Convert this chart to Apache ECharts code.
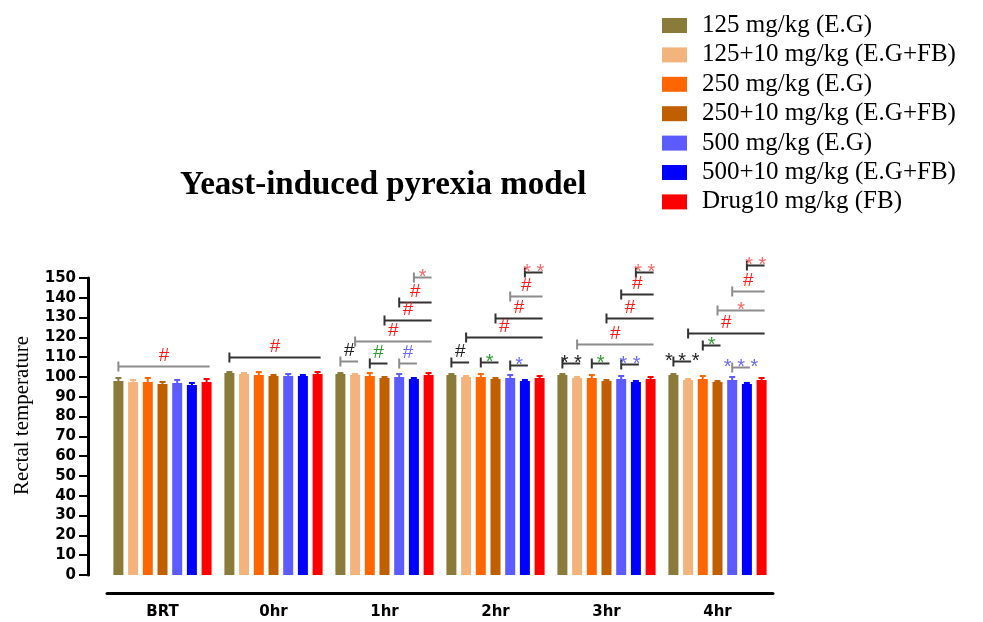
<!DOCTYPE html>
<html>
<head>
<meta charset="utf-8">
<script src="https://cdn.jsdelivr.net/npm/echarts@6/dist/echarts.min.js"></script>
<style>
  html, body { margin: 0; padding: 0; background: #fff; }
  #chart { width: 983px; height: 622px; }
</style>
</head>
<body>
<div id="chart"></div>
<script>
var categories = ['BRT', '0hr', '1hr', '2hr', '3hr', '4hr'];
var seriesNames = ['125 mg/kg (E.G)', '125+10 mg/kg (E.G+FB)', '250 mg/kg (E.G)',
  '250+10 mg/kg (E.G+FB)', '500 mg/kg (E.G)', '500+10 mg/kg (E.G+FB)', 'Drug10 mg/kg (FB)'];
var colors = ['#8a7b3a', '#f2b47c', '#ff6600', '#bf5f00', '#5b5bff', '#0000ff', '#ff0000'];

// mean rectal temperature per group, one value per time point
var eg125 = [98, 102, 101.5, 101, 101, 101];
var eg125fb = [97.5, 101.5, 101, 100, 99.5, 98.5];
var eg250 = [97.5, 101, 100.5, 100, 99.5, 99];
var eg250fb = [96.5, 100.5, 99.5, 99, 98, 97.5];
var eg500 = [97, 100.5, 100, 99.5, 99, 98.5];
var eg500fb = [96, 100.5, 99, 98, 97.5, 96.5];
var drugFb = [97.5, 101.5, 101, 99.5, 99, 98.5];
var values = [eg125, eg125fb, eg250, eg250fb, eg500, eg500fb, drugFb];

// error bar heights
var errors = [
  [1.5, 0.5, 0.5, 0.5, 0.5, 0.5],
  [1, 0.5, 0.5, 0.5, 0.5, 0.5],
  [2, 1.5, 1.5, 1.5, 1.5, 1.5],
  [1, 0.5, 0.5, 0.5, 0.5, 0.5],
  [1.5, 1, 1.5, 1.5, 1.5, 1.5],
  [1, 0.5, 0.5, 0.5, 0.5, 0.5],
  [1.5, 1, 1, 1, 1, 1]
];

// significance brackets: time point, from bar, to bar, level, label, text colour, line colour
var brGroup = [0, 1, 2, 2, 2, 2, 2, 2, 2, 3, 3, 3, 3, 3, 3, 3, 4, 4, 4, 4, 4, 4, 4, 5, 5, 5, 5, 5, 5, 5];
var brFrom  = [0, 0, 5, 4, 3, 1, 0, 2, 4, 5, 4, 3, 1, 0, 2, 4, 5, 4, 3, 1, 0, 2, 4, 5, 4, 3, 1, 2, 0, 4];
var brTo    = [6, 6, 6, 6, 6, 6, 1, 3, 5, 6, 6, 6, 6, 1, 3, 5, 6, 6, 6, 6, 1, 3, 5, 6, 6, 6, 6, 3, 1, 5];
var brLevel = [105.6, 110, 150.7, 138, 129, 118, 108, 107, 107, 153, 141, 129.6, 120, 107.4, 107.4, 106,
  153, 141.8, 129.6, 116.5, 107, 107, 106.4, 156.6, 143.6, 133.8, 122.4, 116, 108, 105];
var brLabel = ['#', '#', '*', '#', '#', '#', '#', '#', '#', '**', '#', '#', '#', '#', '*', '*',
  '**', '#', '#', '#', '**', '*', '**', '**', '#', '*', '#', '*', '***', '***'];
var brText  = ['r', 'r', 'p', 'r', 'r', 'r', 'k', 'g', 'b', 'p', 'r', 'r', 'r', 'k', 'g', 'b',
  'p', 'r', 'r', 'r', 'k', 'g', 'b', 'p', 'r', 'p', 'r', 'g', 'k', 'b'];
var brLine  = ['l', 'd', 'l', 'd', 'd', 'l', 'l', 'd', 'l', 'd', 'l', 'd', 'd', 'd', 'd', 'd',
  'd', 'd', 'd', 'l', 'd', 'd', 'd', 'd', 'l', 'l', 'd', 'd', 'd', 'l'];

var textColors = { r: '#ff1a1a', p: '#ff6666', k: '#222', g: '#2e9a2e', b: '#6b6bff' };
var lineColors = { l: '#8c8c8c', d: '#333' };

var BAR_W = 10, BAR_GAP = 0.47;
var STEP = BAR_W * (1 + BAR_GAP);

var chart = echarts.init(document.getElementById('chart'));

var series = seriesNames.map(function (name, i) {
  return {
    name: name,
    type: 'bar',
    data: values[i],
    barWidth: BAR_W,
    barGap: (BAR_GAP * 100) + '%',
    itemStyle: { color: colors[i] },
    emphasis: { disabled: true }
  };
});

var errData = [];
values.forEach(function (arr, s) {
  arr.forEach(function (v, c) { errData.push([c, v, s, errors[s][c]]); });
});

series.push({
  type: 'custom',
  silent: true,
  clip: false,
  z: 3,
  data: errData,
  encode: { x: 0, y: 1 },
  renderItem: function (params, api) {
    var c = api.value(0), v = api.value(1), s = api.value(2), e = api.value(3);
    var base = api.coord([c, v]);
    var top = api.coord([c, v + e])[1];
    var x = base[0] + (s - 3) * STEP;
    var st = { stroke: colors[s], lineWidth: 2 };
    return {
      type: 'group',
      children: [
        { type: 'line', shape: { x1: x, y1: base[1], x2: x, y2: top }, style: st },
        { type: 'line', shape: { x1: x - 3, y1: top, x2: x + 3, y2: top }, style: st }
      ]
    };
  }
});

series.push({
  type: 'custom',
  silent: true,
  clip: false,
  z: 4,
  data: brGroup.map(function (g, i) { return [g, brLevel[i]]; }),
  encode: { x: 0, y: 1 },
  renderItem: function (params, api) {
    var i = params.dataIndex;
    var p = api.coord([api.value(0), api.value(1)]);
    var x1 = p[0] + (brFrom[i] - 3) * STEP;
    var x2 = p[0] + (brTo[i] - 3) * STEP + 3;
    var y = Math.round(p[1]) + 0.5;
    var lc = lineColors[brLine[i]];
    var star = brLabel[i].indexOf('*') >= 0;
    return {
      type: 'group',
      children: [
        { type: 'line', shape: { x1: x1, y1: y, x2: x2, y2: y }, style: { stroke: lc, lineWidth: 2 } },
        { type: 'line', shape: { x1: x1, y1: y - 5, x2: x1, y2: y + 5 }, style: { stroke: lc, lineWidth: 2 } },
        {
          type: 'text',
          style: {
            text: star ? brLabel[i].split('').join(' ') : brLabel[i],
            x: (x1 + x2) / 2,
            y: star ? y + 10 : y - 1,
            align: 'center',
            verticalAlign: 'bottom',
            fill: textColors[brText[i]],
            font: (star ? '20px' : '19px') + ' "Liberation Sans", Arial, sans-serif'
          }
        }
      ]
    };
  }
});

chart.setOption({
  animation: false,
  backgroundColor: '#fff',
  title: {
    text: 'Yeast-induced pyrexia model',
    left: 175,
    top: 164,
    textStyle: { fontFamily: 'Liberation Serif', fontWeight: 'bold', fontSize: 33, color: '#000' }
  },
  legend: {
    orient: 'vertical',
    left: 657,
    top: 8,
    itemWidth: 25,
    itemHeight: 15,
    itemGap: 4.4,
    icon: 'rect',
    data: seriesNames,
    textStyle: { fontFamily: 'Liberation Serif', fontSize: 25, lineHeight: 25, color: '#000', padding: [0, 0, 0, 10] }
  },
  grid: { left: 107, right: 210, top: 278, bottom: 47, outerBoundsMode: 'none', containLabel: false },
  xAxis: {
    type: 'category',
    data: categories,
    offset: 18,
    axisLine: { onZero: false, lineStyle: { color: '#000', width: 3 } },
    axisTick: { alignWithLabel: true, length: 8, lineStyle: { color: '#000', width: 3 } },
    axisLabel: { margin: 12, color: '#000', fontWeight: 'bold', fontSize: 15, fontFamily: 'DejaVu Sans' }
  },
  yAxis: {
    type: 'value',
    min: 0,
    max: 150,
    interval: 10,
    offset: 19,
    name: 'Rectal temperature',
    nameLocation: 'middle',
    nameGap: 55,
    nameTextStyle: { fontFamily: 'Liberation Serif', fontSize: 21, color: '#000', padding: [0, 0, 0, 22] },
    splitLine: { show: false },
    axisLine: { show: true, lineStyle: { color: '#000', width: 3 } },
    axisTick: { show: true, length: 9, lineStyle: { color: '#000', width: 2 } },
    axisLabel: { margin: 12, color: '#000', fontWeight: 'bold', fontSize: 15, fontFamily: 'DejaVu Sans' }
  },
  series: series
});
</script>
</body>
</html>
